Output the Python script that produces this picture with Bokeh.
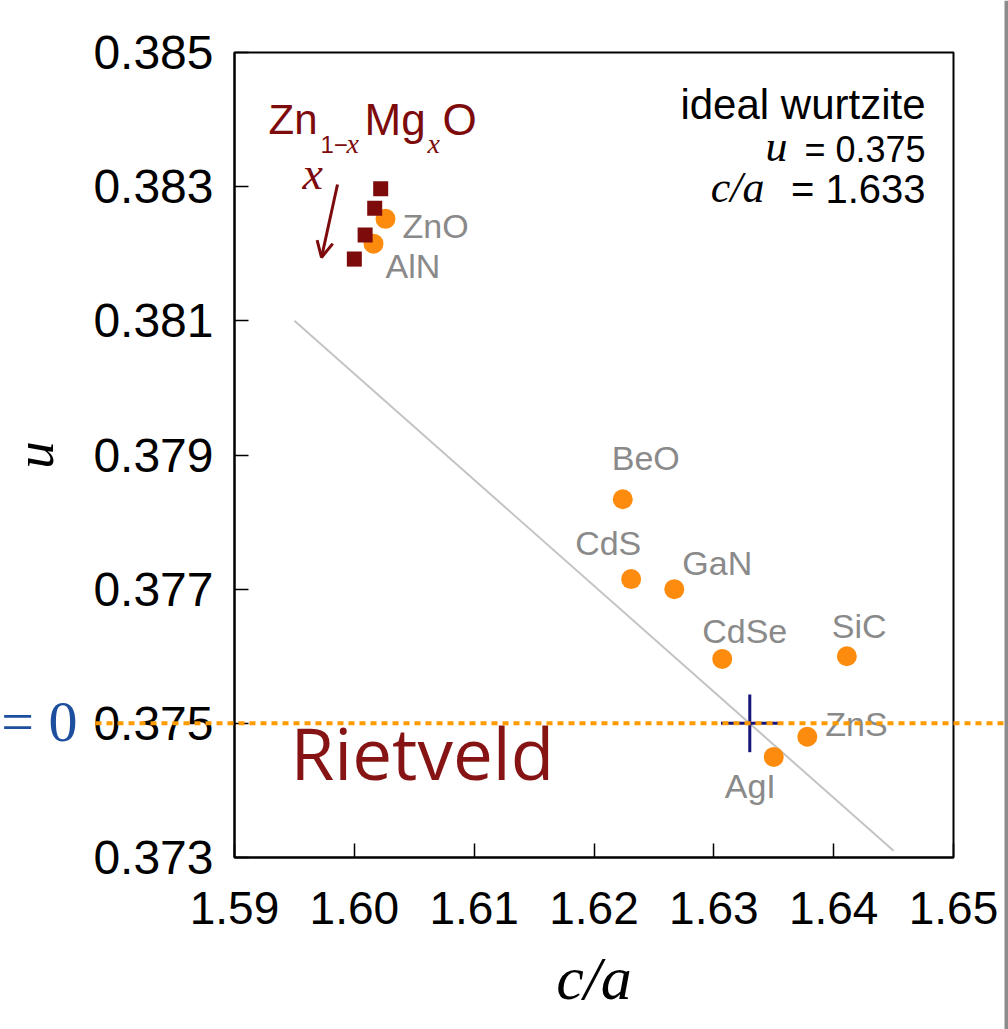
from bokeh.plotting import figure
from bokeh.models import ColumnDataSource, Label, Arrow, OpenHead, FixedTicker, PrintfTickFormatter, Span
from bokeh.embed import file_html
from bokeh.resources import INLINE
from bokeh.core.properties import value

# ---------------- data ----------------
compounds = ["BeO", "CdS", "GaN", "CdSe", "SiC", "ZnS", "AgI", "ZnO", "AlN"]
c_over_a = [1.6224, 1.6231, 1.6267, 1.6307, 1.6411, 1.6378, 1.6350, 1.6026, 1.6016]
u_param = [0.37834, 0.37715, 0.37700, 0.37596, 0.37600, 0.37480, 0.37450, 0.38252, 0.38215]

znmgo_c_over_a = [1.6022, 1.6017, 1.6009, 1.6000]
znmgo_u = [0.38297, 0.38268, 0.38228, 0.38192]

trend_c_over_a = [1.595, 1.645]
trend_u = [0.3810, 0.3731]

ideal_c_over_a = 1.633
ideal_u = 0.375

x_ticks = [1.59, 1.60, 1.61, 1.62, 1.63, 1.64, 1.65]
y_ticks = [0.373, 0.375, 0.377, 0.379, 0.381, 0.383, 0.385]

# label placement (pixels relative to each point) -- layout only
label_dx = [-11, -56, 8, -20, -15, 18, -49, 17, 12]
label_dy = [-41, -36, -26, -28, -30, -13, 29, 7, 22]

# ---------------- layout constants ----------------
W, H = 1008, 1029
FL, FT, FW, FH = 234, 52, 719, 805   # where the data box sits on the canvas
X0, X1, Y0, Y1 = x_ticks[0], x_ticks[-1], y_ticks[0], y_ticks[-1]


def dx(px):
    return X0 + (px - FL) * (X1 - X0) / FW


def dy(py):
    return Y1 - (py - FT) * (Y1 - Y0) / FH


MAROON = "#7d0b0b"
ORANGE = "#fd8c0e"
GRAY_TXT = "#8a8a8a"

p = figure(frame_width=W, frame_height=H, x_range=(dx(0), dx(W)), y_range=(dy(H), dy(0)),
           output_backend="svg", toolbar_location=None, title=None,
           min_border=0, min_border_left=0, min_border_right=0, min_border_top=0, min_border_bottom=0)
p.background_fill_color = "white"
p.border_fill_color = "white"
p.outline_line_color = None
p.xgrid.visible = False
p.ygrid.visible = False

# data box (top/right edges of the frame)
p.quad(left=[X0], right=[X1], bottom=[Y0], top=[Y1], fill_color=None, line_color="black", line_width=2)

for ax in (p.xaxis[0], p.yaxis[0]):
    ax.axis_line_width = 2
    ax.axis_line_color = "black"
    ax.major_tick_in = 14
    ax.major_tick_out = 0
    ax.major_tick_line_width = 1.5
    ax.minor_tick_line_color = None
    ax.major_label_text_font = "Liberation Sans"
    ax.major_label_text_color = "black"
    ax.axis_label_text_font = "Liberation Serif"
    ax.axis_label_text_font_style = "italic"
    ax.axis_label_text_color = "black"

p.xaxis.fixed_location = Y0
p.yaxis.fixed_location = X0
p.xaxis.bounds = (X0, X1)
p.yaxis.bounds = (Y0, Y1)
p.xaxis.ticker = FixedTicker(ticks=x_ticks)
p.yaxis.ticker = FixedTicker(ticks=y_ticks)
p.xaxis.formatter = PrintfTickFormatter(format="%.2f")
p.yaxis.formatter = PrintfTickFormatter(format="%.3f")
p.xaxis.major_label_text_font_size = "46px"
p.yaxis.major_label_text_font_size = "48px"
p.xaxis.major_label_standoff = 34
p.yaxis.major_label_standoff = 21
p.xaxis.axis_label = "c/a"
p.yaxis.axis_label = "u"
p.xaxis.axis_label_text_font_size = "62px"
p.yaxis.axis_label_text_font_size = "55px"
p.xaxis.axis_label_standoff = 17
p.yaxis.axis_label_standoff = 25

# trend line
p.line(trend_c_over_a, trend_u, line_color="#c4c4c4", line_width=2)

# ideal wurtzite cross
p.segment(x0=[ideal_c_over_a - 0.0024, ideal_c_over_a], y0=[ideal_u, ideal_u - 0.00043],
          x1=[ideal_c_over_a + 0.0024, ideal_c_over_a], y1=[ideal_u, ideal_u + 0.00043],
          line_color="#14147a", line_width=3)

# compounds
src = ColumnDataSource(dict(x=c_over_a, y=u_param, name=compounds, ox=label_dx, oy=label_dy))
p.scatter("x", "y", source=src, size=20, fill_color=ORANGE, line_color=None)
p.text("x", "y", text="name", source=src, x_offset="ox", y_offset="oy",
       text_font=value("Liberation Sans"), text_font_size="34px", text_color=GRAY_TXT,
       text_align="left", text_baseline="alphabetic")

# Zn1-xMgxO series
p.scatter(znmgo_c_over_a, znmgo_u, marker="square", size=15, fill_color=MAROON, line_color=None)


def lab(px, py, text, size, color="black", font="Liberation Sans", style="normal", align="left"):
    py_adj = py - 0.37 * size
    p.add_layout(Label(x=dx(px), y=dy(py_adj), text=text, text_font=font, text_font_size=f"{size}px",
                       text_font_style=style, text_color=color, text_align=align,
                       text_baseline="alphabetic"))


# title Zn_{1-x}Mg_{x}O
lab(268, 135, "Zn", 42, MAROON)
lab(320, 153, "1\u2212", 24, MAROON)
lab(346, 153, "x", 28, MAROON, "Liberation Serif", "italic")
lab(364, 135, "Mg", 44, MAROON)
lab(427, 153, "x", 28, MAROON, "Liberation Serif", "italic")
lab(442, 135, "O", 44, MAROON)

# x arrow
lab(302, 190, "x", 46, MAROON, "Liberation Serif", "italic")
p.add_layout(Arrow(end=OpenHead(size=16, line_color=MAROON, line_width=3),
                   x_start=dx(337), y_start=dy(184), x_end=dx(321), y_end=dy(257),
                   line_color=MAROON, line_width=3))

# ideal wurtzite box
lab(925, 120, "ideal wurtzite", 42, align="right")
lab(925, 162, "= 0.375", 36, align="right")
lab(787, 162, "u", 44, font="Liberation Serif", style="italic", align="right")
lab(925, 203, "= 1.633", 40, align="right")
lab(764, 203, "c/a", 44, font="Liberation Serif", style="italic", align="right")

# Rietveld
lab(290, 778, "Rietveld", 71, "#861414", font="Open Sans")

# "= 0" fragment at the left edge
lab(77, 742, "= 0", 58, "#1d4f9e", font="Liberation Serif", align="right")

# dotted u = 0.375 line (extends past the data box)
p.add_layout(Arrow(start=None, end=None, x_start=dx(95), y_start=ideal_u, x_end=dx(W), y_end=ideal_u,
                   line_color="#ff9a00", line_width=4, line_dash="6 5"))

# grey edge bar at right
p.add_layout(Span(location=dx(1006), dimension="height", line_color="#8c8c8c", line_width=4))

open("out.html", "w").write(file_html(p, INLINE))
